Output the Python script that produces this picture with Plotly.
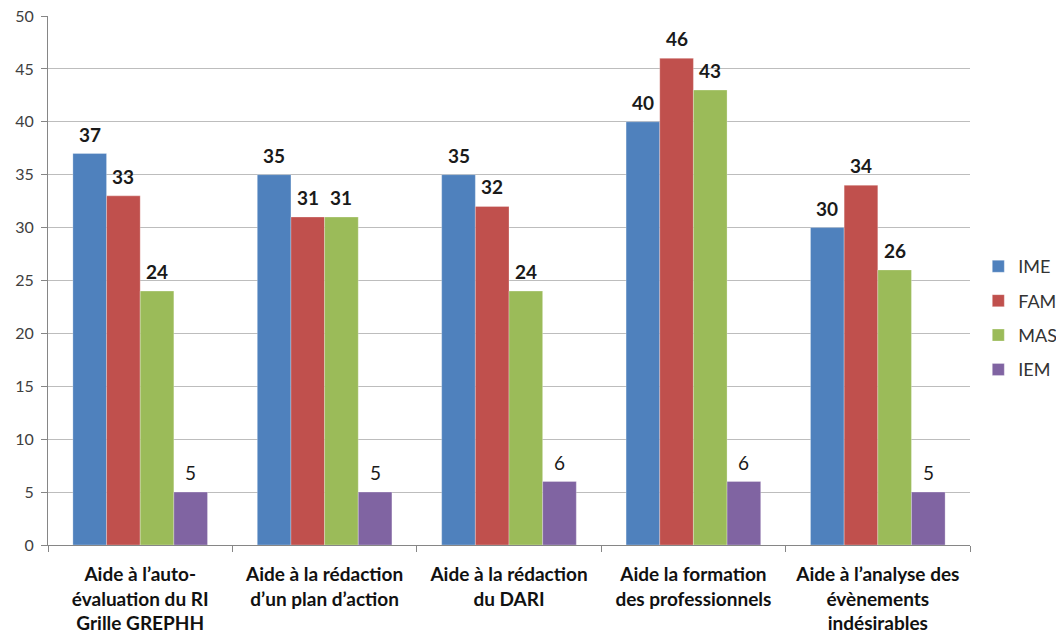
import plotly.graph_objects as go

categories = [
    "Aide à l’auto-<br>évaluation du RI<br>Grille GREPHH",
    "Aide à la rédaction<br>d’un plan d’action",
    "Aide à la rédaction<br>du DARI",
    "Aide la formation<br>des professionnels",
    "Aide à l’analyse des<br>évènements<br>indésirables",
]
series_names = ["IME", "FAM", "MAS", "IEM"]
ime = [37, 35, 35, 40, 30]
fam = [33, 31, 32, 46, 34]
mas = [24, 31, 24, 43, 26]
iem = [5, 5, 6, 6, 5]
y_ticks = list(range(0, 51, 5))

values = [ime, fam, mas, iem]
colors = ["#4F81BD", "#C0504D", "#9BBB59", "#8064A2"]
bold_labels = [True, True, True, False]

FONT = "Lato, 'Open Sans', sans-serif"

fig = go.Figure()
for i, (name, vals, col) in enumerate(zip(series_names, values, colors)):
    fig.add_trace(go.Bar(
        x=list(range(len(categories))), y=vals, name=name,
        marker=dict(color=col, line=dict(color="rgba(255,255,255,0.35)", width=0.8)),
        legendgroup=name,
    ))

bargap = 0.27
group_w = 1 - bargap
bw = group_w / len(series_names)
annotations = []
for i, vals in enumerate(values):
    off = -group_w / 2 + bw * (i + 0.5)
    for j, v in enumerate(vals):
        txt = f"<b>{v}</b>" if bold_labels[i] else str(v)
        annotations.append(dict(
            x=j + off, y=v, xref="x", yref="y", text=txt, showarrow=False,
            yanchor="bottom", yshift=6,
            font=dict(family=FONT, size=19, color="#1a1a1a"),
        ))

fig.update_layout(
    width=1056, height=635,
    margin=dict(l=48, r=86, t=16, b=90, autoexpand=False),
    barmode="group", bargap=bargap, bargroupgap=0,
    plot_bgcolor="white", paper_bgcolor="white",
    font=dict(family=FONT, color="#404040"),
    annotations=annotations,
    legend=dict(
        x=1.009, y=0.429, xanchor="left", yanchor="middle",
        font=dict(family=FONT, size=18, color="#333333"),
        traceorder="grouped", tracegroupgap=8, itemwidth=30,
        bgcolor="rgba(0,0,0,0)",
    ),
    xaxis=dict(
        tickmode="array", tickvals=list(range(len(categories))),
        ticktext=[f"<b>{c}</b>" for c in categories],
        range=[-0.5, len(categories) - 0.5],
        showgrid=False, showline=True, linecolor="#868686", linewidth=1,
        ticks="", tickcolor="#868686",
        tickfont=dict(family=FONT, size=19, color="#111111"),
        ticklabelstandoff=12,
        zeroline=False,
        minor=dict(tickvals=[i - 0.5 for i in range(len(categories) + 1)],
                   ticks="outside", ticklen=6, tickcolor="#868686"),
    ),
    yaxis=dict(
        range=[0, 50], tickvals=y_ticks,
        showgrid=True, gridcolor="#BDBDBD", gridwidth=1,
        showline=True, linecolor="#868686", linewidth=1,
        ticks="outside", ticklen=6, tickcolor="#868686",
        tickfont=dict(family=FONT, size=16, color="#404040"),
        ticklabelstandoff=4,
        zeroline=False,
    ),
)

fig.write_html("out.html", config={"displayModeBar": False},
               post_script="document.body.style.margin='0';document.body.style.overflow='hidden';")
